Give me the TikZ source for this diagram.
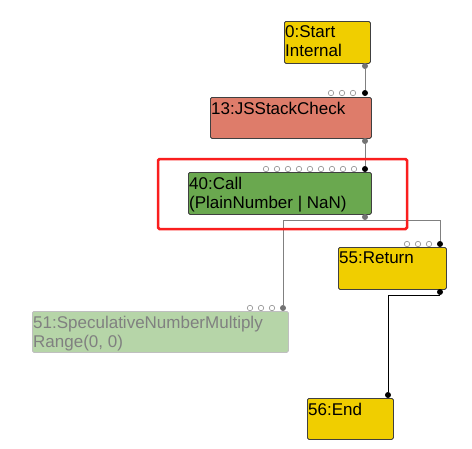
\documentclass[tikz,border=0pt]{standalone}
\usepackage{fontspec}
\setmainfont{Liberation Sans}
\usepackage{tikz}

\definecolor{opyellow}{RGB}{240,206,0}
\definecolor{opred}{RGB}{222,124,106}
\definecolor{opgreen}{RGB}{106,168,79}
\definecolor{opfaded}{RGB}{182,213,168}
\definecolor{edgegray}{RGB}{128,128,128}
\definecolor{markred}{RGB}{250,30,30}

\begin{document}
\begin{tikzpicture}[x=1pt,y=1pt]
	\tikzstyle{every node}+=[inner sep=0pt]
	\tikzstyle{opbox}=[draw=black!75, line width=0.8pt, rounded corners=1.5pt, anchor=north west]
	\tikzstyle{fadedbox}=[draw=black!25, line width=0.8pt, rounded corners=1.5pt, anchor=north west, fill=opfaded]
	\tikzstyle{oplabel}=[anchor=north west, align=left, font=\fontsize{17}{19}\selectfont]
	\tikzstyle{inport}=[circle, fill=black, minimum size=6pt]
	\tikzstyle{outport}=[circle, fill=black!55, minimum size=6pt]
	\tikzstyle{freeport}=[draw=black!45, fill=white, line width=0.6pt]
	\tikzstyle{edge}=[draw=edgegray, line width=0.9pt]
	\useasboundingbox (0,0) rectangle (472,-448);
	% boxes
	\node [opbox, fill=opyellow, minimum width=86, minimum height=42] (start) at (284,-21) {};
	\node [oplabel] (start-txt) at ([shift={(1,-4.5)}]start.north west) {0:Start\\Internal};
	\node [opbox, fill=opred, minimum width=161, minimum height=41] (stackcheck) at (210,-97) {};
	\node [oplabel] (stackcheck-txt) at ([shift={(1,-4.5)}]stackcheck.north west) {13:JSStackCheck};
	\node [opbox, fill=opgreen, minimum width=183, minimum height=42] (call) at (188,-172) {};
	\node [oplabel] (call-txt) at ([shift={(1,-4.5)}]call.north west) {40:Call\\(PlainNumber | NaN)};
	\node [opbox, fill=opyellow, minimum width=108, minimum height=42] (ret) at (338,-247) {};
	\node [oplabel] (ret-txt) at ([shift={(1,-4.5)}]ret.north west) {55:Return};
	\node [fadedbox, minimum width=256, minimum height=41] (mult) at (32,-311) {};
	\node [oplabel, text=black!50] (mult-txt) at ([shift={(1,-4.5)}]mult.north west) {51:SpeculativeNumberMultiply\\Range(0, 0)};
	\node [opbox, fill=opyellow, minimum width=86, minimum height=41] (fin) at (307,-398) {};
	\node [oplabel] (fin-txt) at ([shift={(1,-4.5)}]fin.north west) {56:End};
	% unused inputs
	\draw [freeport] (331,-93) circle (2.7) (342,-93) circle (2.7) (353,-93) circle (2.7);
	\draw [freeport] (266,-169) circle (2.7) (277,-169) circle (2.7) (288,-169) circle (2.7)
		(299,-169) circle (2.7) (310,-169) circle (2.7) (321,-169) circle (2.7)
		(332,-169) circle (2.7) (343,-169) circle (2.7) (354,-169) circle (2.7);
	\draw [freeport] (407,-244) circle (2.7) (418,-244) circle (2.7) (429,-244) circle (2.7);
	\draw [freeport] (250,-308) circle (2.7) (261,-308) circle (2.7) (272,-308) circle (2.7);
	% ports
	\node [outport] (start-out) at (365,-66) {};
	\node [inport] (stackcheck-in) at (365,-93) {};
	\node [outport] (stackcheck-out) at (365,-141) {};
	\node [inport] (call-in) at (365,-169) {};
	\node [outport] (call-out) at (365,-217) {};
	\node [outport] (mult-in) at (283,-308) {};
	\node [inport] (ret-in) at (440,-244) {};
	\node [inport] (ret-out) at (440,-292) {};
	\node [inport] (fin-in) at (388,-395) {};
	% edges
	\draw [edge] (start-out) -- (stackcheck-in);
	\draw [edge] (stackcheck-out) -- (call-in);
	\draw [edge] (call-out.south) -| (mult-in.north);
	\draw [edge] (call-out.south) -| (ret-in.north);
	\draw [edge, draw=black] (ret-out.south) -| (fin-in.north);
	% selection
	\draw [markred, line width=2.5pt, rounded corners=1.5pt] (158,-159) rectangle (407,-229);
\end{tikzpicture}
\end{document}
